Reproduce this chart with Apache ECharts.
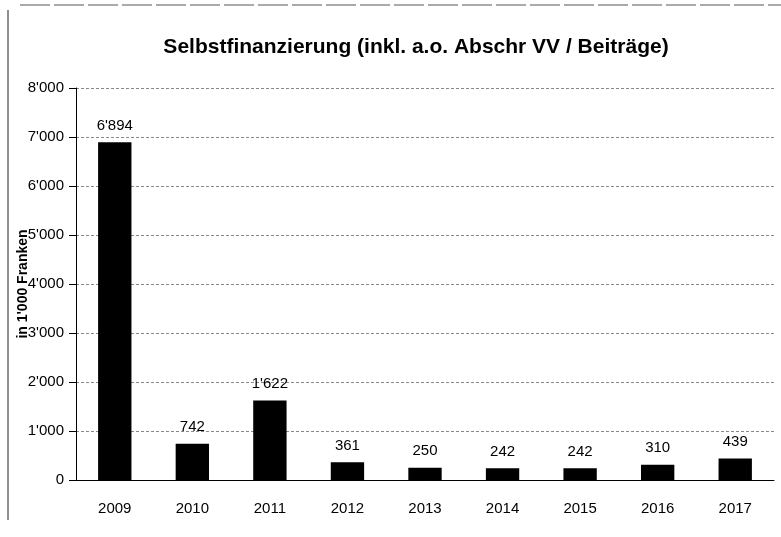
<!DOCTYPE html>
<html lang="de">
<head>
    <meta charset="UTF-8">
    <title>Selbstfinanzierung</title>
    <script src="https://cdn.jsdelivr.net/npm/echarts@6/dist/echarts.min.js"></script>
    <style>
        body { margin: 0; background: #fff; }
    </style>
</head>
<body>
    <div id="chart_div" style="width: 781px; height: 537px;"></div>
</body>
    <script type="text/javascript">

       // Werte in 1'000 Franken
       var jahre = ['2009', '2010', '2011', '2012', '2013', '2014', '2015', '2016', '2017'];
       var selbstfinanzierung = [6894, 742, 1622, 361, 250, 242, 242, 310, 439];

       function fmt(v) {
           return String(v).replace(/\B(?=(\d{3})+(?!\d))/g, "'");
       }

       var chart = echarts.init(document.getElementById("chart_div"));
       var options = {
            backgroundColor: '#fff',
            textStyle: { fontFamily: 'Liberation Sans, Arial, sans-serif', color: '#000' },
            title : {
                text: 'Selbstfinanzierung (inkl. a.o. Abschr VV / Beiträge)',
                left: 411,
                top: 32,
                textAlign: 'center',
                textStyle: { fontSize: 21, fontWeight: 'bold', color: '#000' }
            },
            grid: { left: 76, right: 7, top: 88, bottom: 57, containLabel: false, outerBoundsMode: 'none' },
            graphic: [
                { type: 'line', shape: { x1: 8, y1: 10, x2: 8, y2: 520 }, style: { stroke: '#222', lineWidth: 1 } },
                { type: 'line', shape: { x1: 20, y1: 5, x2: 781, y2: 5 }, style: { stroke: '#555', lineWidth: 1, lineDash: [30, 4] } }
            ],
            xAxis: {
                type: 'category',
                data: jahre,
                axisLine: { lineStyle: { color: '#000', width: 1 } },
                axisTick: { show: false },
                axisLabel: { color: '#000', fontSize: 15, margin: 21 }
            },
            yAxis: {
                type: 'value',
                min: 0,
                max: 8000,
                interval: 1000,
                name: "in 1'000 Franken",
                nameLocation: 'middle',
                nameGap: 46,
                nameMoveOverlap: false,
                nameTextStyle: { color: '#000', fontSize: 14, fontWeight: 'bold' },
                axisLine: { show: true, lineStyle: { color: '#000' } },
                axisTick: { show: true, length: 7, lineStyle: { color: '#000' } },
                axisLabel: { color: '#000', fontSize: 15, margin: 12, formatter: fmt },
                splitLine: { lineStyle: { color: '#888', type: [3, 2], width: 1 } }
            },
            series : [
                {
                    name: 'Selbstfinanzierung',
                    type: 'bar',
                    data: selbstfinanzierung,
                    barWidth: '43%',
                    itemStyle: { color: '#000' },
                    label: {
                        show: true,
                        position: 'top',
                        distance: 9,
                        color: '#000',
                        fontSize: 15,
                        formatter: function (p) { return fmt(p.value); }
                    }
                }
            ]
       };
       chart.setOption(options);

    </script>
</html>
